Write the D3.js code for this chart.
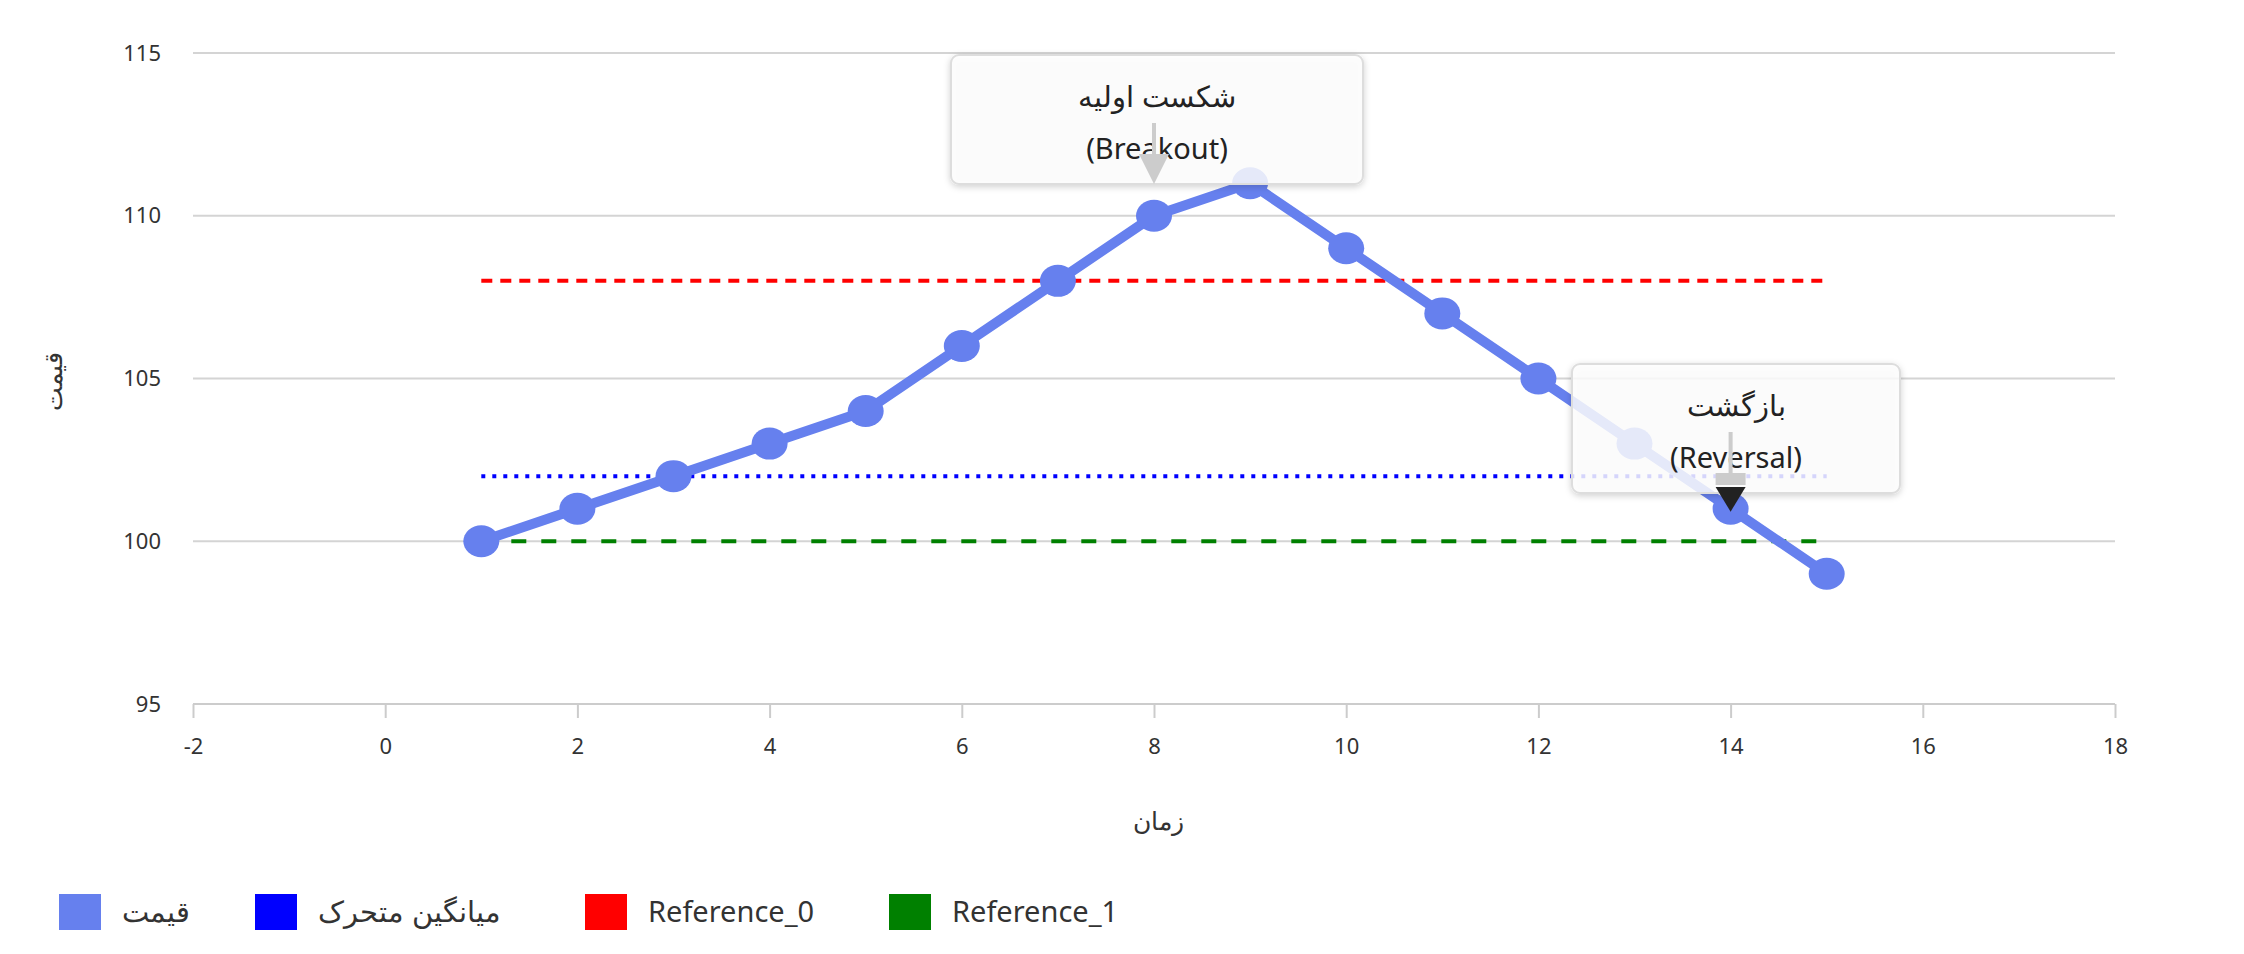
<!DOCTYPE html>
<html><head><meta charset="utf-8">
<script src="https://cdn.jsdelivr.net/npm/d3@7"></script>
<style>body{margin:0;background:#fff;font-family:"Noto Sans",sans-serif}</style>
</head><body><svg id="chart" width="2244" height="954"></svg>
<script>
const times = [1,2,3,4,5,6,7,8,9,10,11,12,13,14,15];
const prices = [100,101,102,103,104,106,108,110,111,109,107,105,103,101,99];
const movingAvg = 102;
const reference0 = 108;
const reference1 = 100;
const xTicks = [-2,0,2,4,6,8,10,12,14,16,18];
const yTicks = [95,100,105,110,115];
const legendNames = ["قیمت","میانگین متحرک","Reference_0","Reference_1"];
const legendColors = ["#6680ee","#0000ff","#ff0000","#008000"];
const notes = [
  {x:8, lines:["شکست اولیه","(Breakout)"], box:[951,55,412,129], head:"#ccc"},
  {x:14, y:101, lines:["بازگشت","(Reversal)"], box:[1572,364,328,129], head:"#222"}
];

const svg = d3.select("#chart");
const x = d3.scaleLinear().domain([-2,18]).range([193,2115]);
const y = d3.scaleLinear().domain([95,115]).range([704,53]);
const ink = "#333";

//grid
svg.append("g").selectAll("line").data(yTicks).enter().append("line")
  .attr("x1",x(-2)).attr("x2",x(18)).attr("y1",d=>y(d)).attr("y2",d=>y(d))
  .attr("stroke","#d4d4d4").attr("stroke-width",2);
svg.append("g").selectAll("text").data(yTicks).enter().append("text")
  .attr("x",161).attr("y",d=>y(d)).attr("dy","0.35em").attr("text-anchor","end")
  .attr("font-size",22).attr("fill",ink).text(d=>d);

//x axis
const xa = svg.append("g").attr("transform","translate(0,704)")
  .call(d3.axisBottom(x).tickValues(xTicks).tickFormat(d=>String(d)).tickSize(14).tickPadding(20));
xa.selectAll("line,path").attr("stroke","#ccc").attr("stroke-width",2);
xa.select("path").attr("d","M193,0H2115");
xa.selectAll("text").attr("font-size",22).attr("fill",ink).attr("font-family","Noto Sans");

svg.append("text").attr("x",1158).attr("y",830).attr("text-anchor","middle")
  .attr("font-size",25).attr("fill",ink).text("زمان");
svg.append("text").attr("transform","translate(62,381) rotate(-90)").attr("text-anchor","middle")
  .attr("font-size",25).attr("fill",ink).text("قیمت");

//reference lines
function hline(v,color,dash){
  svg.append("line").attr("x1",x(1)).attr("x2",x(15)).attr("y1",y(v)).attr("y2",y(v))
    .attr("stroke",color).attr("stroke-width",4).attr("stroke-dasharray",dash);
}
hline(movingAvg,"#0000ff","4 7");
hline(reference0,"#ff0000","11 8");
hline(reference1,"#008000","15 15");

//price
const line = d3.line().x((d,i)=>x(times[i])).y(d=>y(d));
svg.append("path").datum(prices).attr("d",line).attr("fill","none")
  .attr("stroke","#6680ee").attr("stroke-width",10);
svg.append("g").selectAll("ellipse").data(prices).enter().append("ellipse")
  .attr("cx",(d,i)=>x(times[i])).attr("cy",d=>y(d)).attr("rx",18).attr("ry",16)
  .attr("fill","#6680ee");

//annotations
const defs = svg.append("defs");
const f = defs.append("filter").attr("id","sh").attr("x","-10%").attr("y","-10%").attr("width","120%").attr("height","130%");
f.append("feDropShadow").attr("dx",0).attr("dy",2).attr("stdDeviation",3).attr("flood-color","#000").attr("flood-opacity",0.2);
notes.forEach(n=>{
  const [bx,by,bw,bh] = n.box;
  svg.append("rect").attr("x",bx).attr("y",by).attr("width",bw).attr("height",bh).attr("rx",8)
    .attr("fill","#fff").attr("fill-opacity",0.82).attr("stroke","#ddd").attr("stroke-width",2)
    .attr("filter","url(#sh)");
  const cx = x(n.x);
  n.lines.forEach((t,i)=>{
    svg.append("text").attr("x",bx+bw/2).attr("y",by+52+i*52).attr("text-anchor","middle")
      .attr("font-size",29).attr("fill","#222").text(t);
  });
  const top = by+68, bot = by+bh;
  svg.append("line").attr("x1",cx).attr("x2",cx).attr("y1",top).attr("y2",bot-20)
    .attr("stroke","#ccc").attr("stroke-width",4);
  if(n.y!==undefined){
    svg.append("rect").attr("x",cx-15).attr("y",bot-20).attr("width",30).attr("height",12).attr("fill","#ccc");
    svg.append("path").attr("d",`M${cx-15},${bot-6}L${cx+15},${bot-6}L${cx},${y(n.y)+3}Z`).attr("fill",n.head);
  } else {
    svg.append("path").attr("d",`M${cx-15},${bot-30}L${cx+15},${bot-30}L${cx},${bot}Z`).attr("fill",n.head);
  }
});

//legend
const lx = [59,255,585,889];
legendNames.forEach((name,i)=>{
  svg.append("rect").attr("x",lx[i]).attr("y",894).attr("width",42).attr("height",36).attr("fill",legendColors[i]);
  svg.append("text").attr("x",lx[i]+63).attr("y",912).attr("dy","0.35em")
    .attr("font-size",29).attr("fill",ink).text(name);
});
</script></body></html>
